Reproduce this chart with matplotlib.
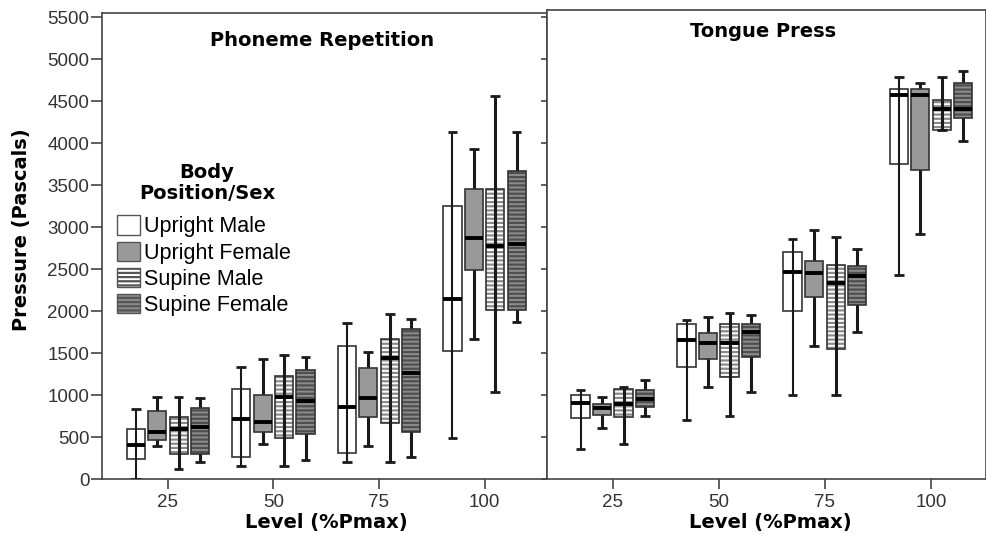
import matplotlib
matplotlib.use("Agg")
import matplotlib.pyplot as plt
from matplotlib.patches import Patch

plt.rcParams['font.family'] = ['Liberation Sans', 'DejaVu Sans']
plt.rcParams['hatch.linewidth'] = 1.6

levels = [25, 50, 75, 100]
groups = ["Upright Male", "Upright Female", "Supine Male", "Supine Female"]

# five-number summaries per group: [whisker low, q1, median, q3, whisker high], one per level
phoneme = {
    "Upright Male":   [[0, 242, 401, 599, 830], [159, 266, 718, 1068, 1330],
                       [206, 306, 857, 1583, 1853], [492, 1524, 2143, 3246, 4135]],
    "Upright Female": [[397, 464, 560, 810, 976], [421, 556, 675, 1000, 1425],
                       [393, 738, 968, 1318, 1508], [1663, 2488, 2869, 3452, 3932]],
    "Supine Male":    [[115, 298, 599, 742, 972], [155, 484, 980, 1226, 1473],
                       [202, 667, 1440, 1663, 1960], [1040, 2012, 2770, 3452, 4560]],
    "Supine Female":  [[202, 298, 623, 841, 960], [222, 536, 925, 1302, 1456],
                       [262, 563, 1262, 1782, 1905], [1869, 2012, 2801, 3663, 4135]],
}
tongue = {
    "Upright Male":   [[361, 730, 905, 1004, 1056], [702, 1330, 1651, 1849, 1897],
                       [996, 2004, 2468, 2699, 2853], [2429, 3746, 4575, 4647, 4782]],
    "Upright Female": [[603, 766, 845, 897, 976], [1095, 1425, 1615, 1742, 1929],
                       [1583, 2163, 2452, 2595, 2968], [2913, 3675, 4571, 4647, 4714]],
    "Supine Male":    [[417, 742, 889, 1071, 1095], [746, 1218, 1623, 1849, 1980],
                       [1004, 1544, 2337, 2548, 2877], [4158, 4158, 4405, 4508, 4782]],
    "Supine Female":  [[746, 861, 956, 1063, 1175], [1036, 1449, 1746, 1841, 1952],
                       [1754, 2071, 2413, 2539, 2734], [4020, 4298, 4405, 4714, 4853]],
}

styles = {
    "Upright Male":   dict(face="none", hatch=None, hcol=None, line_on_top=True, wlw=1.5),
    "Upright Female": dict(face="#999999", hatch=None, hcol=None, line_on_top=False, wlw=2.2),
    "Supine Male":    dict(face="white", hatch="----", hcol="#8a8a8a", line_on_top=True, wlw=2.2),
    "Supine Female":  dict(face="#8c8c8c", hatch="----", hcol="#4f4f4f", line_on_top=False, wlw=2.2),
}
offsets = [-7.6, -2.55, 2.55, 7.6]
box_w = 4.3
cap_w = 2.3
edge = "#333333"
bold = dict(family="DejaVu Sans", fontweight="bold", fontsize=14)


def draw_panel(ax, data):
    for g, off in zip(groups, offsets):
        st = styles[g]
        for lev, (lo, q1, med, q3, hi) in zip(levels, data[g]):
            x = lev + off
            lz = 4 if st["line_on_top"] else 1
            ax.vlines(x, lo, hi, color="#1a1a1a", lw=st["wlw"], zorder=lz)
            ax.hlines([lo, hi], x - cap_w / 2, x + cap_w / 2, color="#1a1a1a", lw=2, zorder=lz)
            ax.bar(x, q3 - q1, bottom=q1, width=box_w, color=st["face"], zorder=2,
                   edgecolor="none", linewidth=0)
            if st["hatch"]:
                ax.bar(x, q3 - q1, bottom=q1, width=box_w, color="none", zorder=3,
                       edgecolor=st["hcol"], hatch=st["hatch"], linewidth=0)
            ax.bar(x, q3 - q1, bottom=q1, width=box_w, color="none", zorder=3,
                   edgecolor=edge, linewidth=1.2)
            ax.hlines(med, x - box_w / 2, x + box_w / 2, color="black", lw=2.8, zorder=5)


fig = plt.figure(figsize=(9.87, 5.43), dpi=100)
ax1 = fig.add_axes([102 / 987, 1 - 479 / 543, 445 / 987, 466 / 543])
ax2 = fig.add_axes([547 / 987, 1 - 479 / 543, 439 / 987, 469 / 543])

draw_panel(ax1, phoneme)
draw_panel(ax2, tongue)

ax1.set_xlim(9.4, 114.8)
ax1.set_ylim(0, 5548)
ax2.set_xlim(9.5, 113.0)
ax2.set_ylim(0, 5583)

for ax in (ax1, ax2):
    ax.set_xticks(levels)
    ax.set_xticklabels([str(v) for v in levels])
    for s in ax.spines.values():
        s.set_color("#444444")
        s.set_linewidth(1.2)
    ax.tick_params(axis="x", direction="out", length=7, width=1.2, color="#444444",
                   labelsize=13.5, labelcolor="#333333", pad=4)
    ax.set_xlabel("Level (%Pmax)", va="top", **bold)

ax1.xaxis.set_label_coords(0.503, -0.073)
ax2.xaxis.set_label_coords(0.508, -0.072)

ax1.set_yticks(range(0, 5501, 500))
ax1.tick_params(axis="y", direction="out", length=8, width=1.2, color="#444444",
                labelsize=13.5, labelcolor="#333333", pad=1)
ax1.set_ylabel("Pressure (Pascals)", va="center", **bold)
ax1.yaxis.set_label_coords(-0.18, 0.534)
ax2.set_yticks(range(0, 5501, 500))
ax2.tick_params(axis="y", direction="out", length=4, width=1.2, color="#444444",
                labelleft=False)

ax1.text(0.494, 0.942, "Phoneme Repetition", transform=ax1.transAxes,
         ha="center", va="center", **bold)
ax2.text(0.492, 0.955, "Tongue Press", transform=ax2.transAxes,
         ha="center", va="center", **bold)

# legend title drawn as its own text so the gap to the entries can match
ax1.text(0.236, 0.636, "Body\nPosition/Sex", transform=ax1.transAxes,
         ha="center", va="center", multialignment="center", linespacing=1.12, **bold)

handles = []
for g in groups:
    st = styles[g]
    fc = "white" if st["face"] == "none" else st["face"]
    handles.append(Patch(facecolor=fc, edgecolor="#555555", hatch=st["hatch"], label=g))
leg = ax1.legend(handles=handles, loc="upper left",
                 bbox_to_anchor=(0.034, 0.566), frameon=False, fontsize=15.5,
                 handlelength=1.05, handleheight=1.0, handletextpad=0.2,
                 labelspacing=0.2, borderaxespad=0, borderpad=0)

fig.savefig("out.png", dpi=100)
